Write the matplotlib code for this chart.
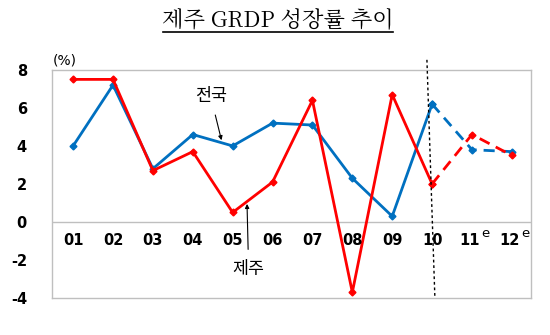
import matplotlib

matplotlib.use("Agg")

import matplotlib.pyplot as plt
from matplotlib.lines import Line2D

plt.rcParams["font.family"] = ["Noto Sans CJK KR", "DejaVu Sans"]

years = ["01", "02", "03", "04", "05", "06", "07", "08", "09", "10", "11", "12"]
estimated = [False] * 10 + [True, True]
jeju = [7.5, 7.5, 2.7, 3.7, 0.5, 2.1, 6.4, -3.7, 6.7, 2.0, 4.6, 3.5]
national = [4.0, 7.2, 2.8, 4.6, 4.0, 5.2, 5.1, 2.3, 0.3, 6.2, 3.8, 3.7]
y_ticks = [8, 6, 4, 2, 0, -2, -4]

RED = "#ff0000"
BLUE = "#0070c0"
GRID = "#bfbfbf"

fig = plt.figure(figsize=(5.5, 3.35), dpi=100)
ax = fig.add_axes([0.0945, 0.1104, 0.871, 0.681])

x = list(range(len(years)))
n_actual = estimated.index(True)

for series, color in [(national, BLUE), (jeju, RED)]:
    ax.plot(x[:n_actual], series[:n_actual], color=color, lw=2.0,
            marker="D", ms=3.5, zorder=3)
    ax.plot(x[n_actual - 1:], series[n_actual - 1:], color=color, lw=2.0,
            ls=(0, (4, 2.5)), marker="D", ms=3.5, zorder=3)

ax.set_xlim(-0.53, 11.48)
ax.set_ylim(-4, 8)
ax.axhline(0, color=GRID, lw=1.0, zorder=1)
for s in ax.spines.values():
    s.set_color(GRID)
    s.set_linewidth(1.0)
ax.set_xticks([])
ax.set_yticks(y_ticks)
ax.set_yticklabels([str(v) for v in y_ticks], fontfamily="DejaVu Sans",
                   fontweight="bold", fontsize=10.5)
ax.tick_params(axis="y", length=0, pad=18)

# category labels sit inside the plot, below the zero line
for i, lab in enumerate(years):
    ax.text(i - 0.05 * estimated[i], -0.95, lab, ha="center", va="center",
            fontsize=10.5, fontweight="bold", fontfamily="DejaVu Sans")
    if estimated[i]:
        ax.text(i + 0.24, -0.6, "e", ha="left", va="center", fontsize=9.5,
                fontfamily="DejaVu Sans")

# split between actual and estimates
ax.add_line(Line2D([8.87, 9.07], [8.53, -4.0], color="black", lw=1.0,
                   ls=(0, (2, 2)), clip_on=False, zorder=4))

ax.annotate("전국", xy=(3.72, 4.3), xytext=(3.45, 6.6), fontsize=12.5,
            ha="center", va="center",
            arrowprops=dict(arrowstyle="-|>", color="black", lw=0.8,
                            mutation_scale=6, shrinkA=5, shrinkB=0))
ax.annotate("제주", xy=(4.36, 0.95), xytext=(4.4, -2.5), fontsize=12.5,
            ha="center", va="center",
            arrowprops=dict(arrowstyle="-|>", color="black", lw=0.8,
                            mutation_scale=6, shrinkA=6, shrinkB=0))

fig.text(0.095, 0.8, "(%)", fontsize=10, ha="left", va="bottom",
         fontfamily="DejaVu Sans")

fig.text(0.505, 0.94, "제주 GRDP 성장률 추이", fontsize=16, ha="center",
         va="center", fontfamily=["Noto Serif CJK KR", "Noto Sans CJK KR", "DejaVu Serif"])
fig.add_artist(Line2D([0.296, 0.714], [0.903, 0.903], color="black", lw=1.2,
                      transform=fig.transFigure))

fig.savefig("out.png", dpi=100)
